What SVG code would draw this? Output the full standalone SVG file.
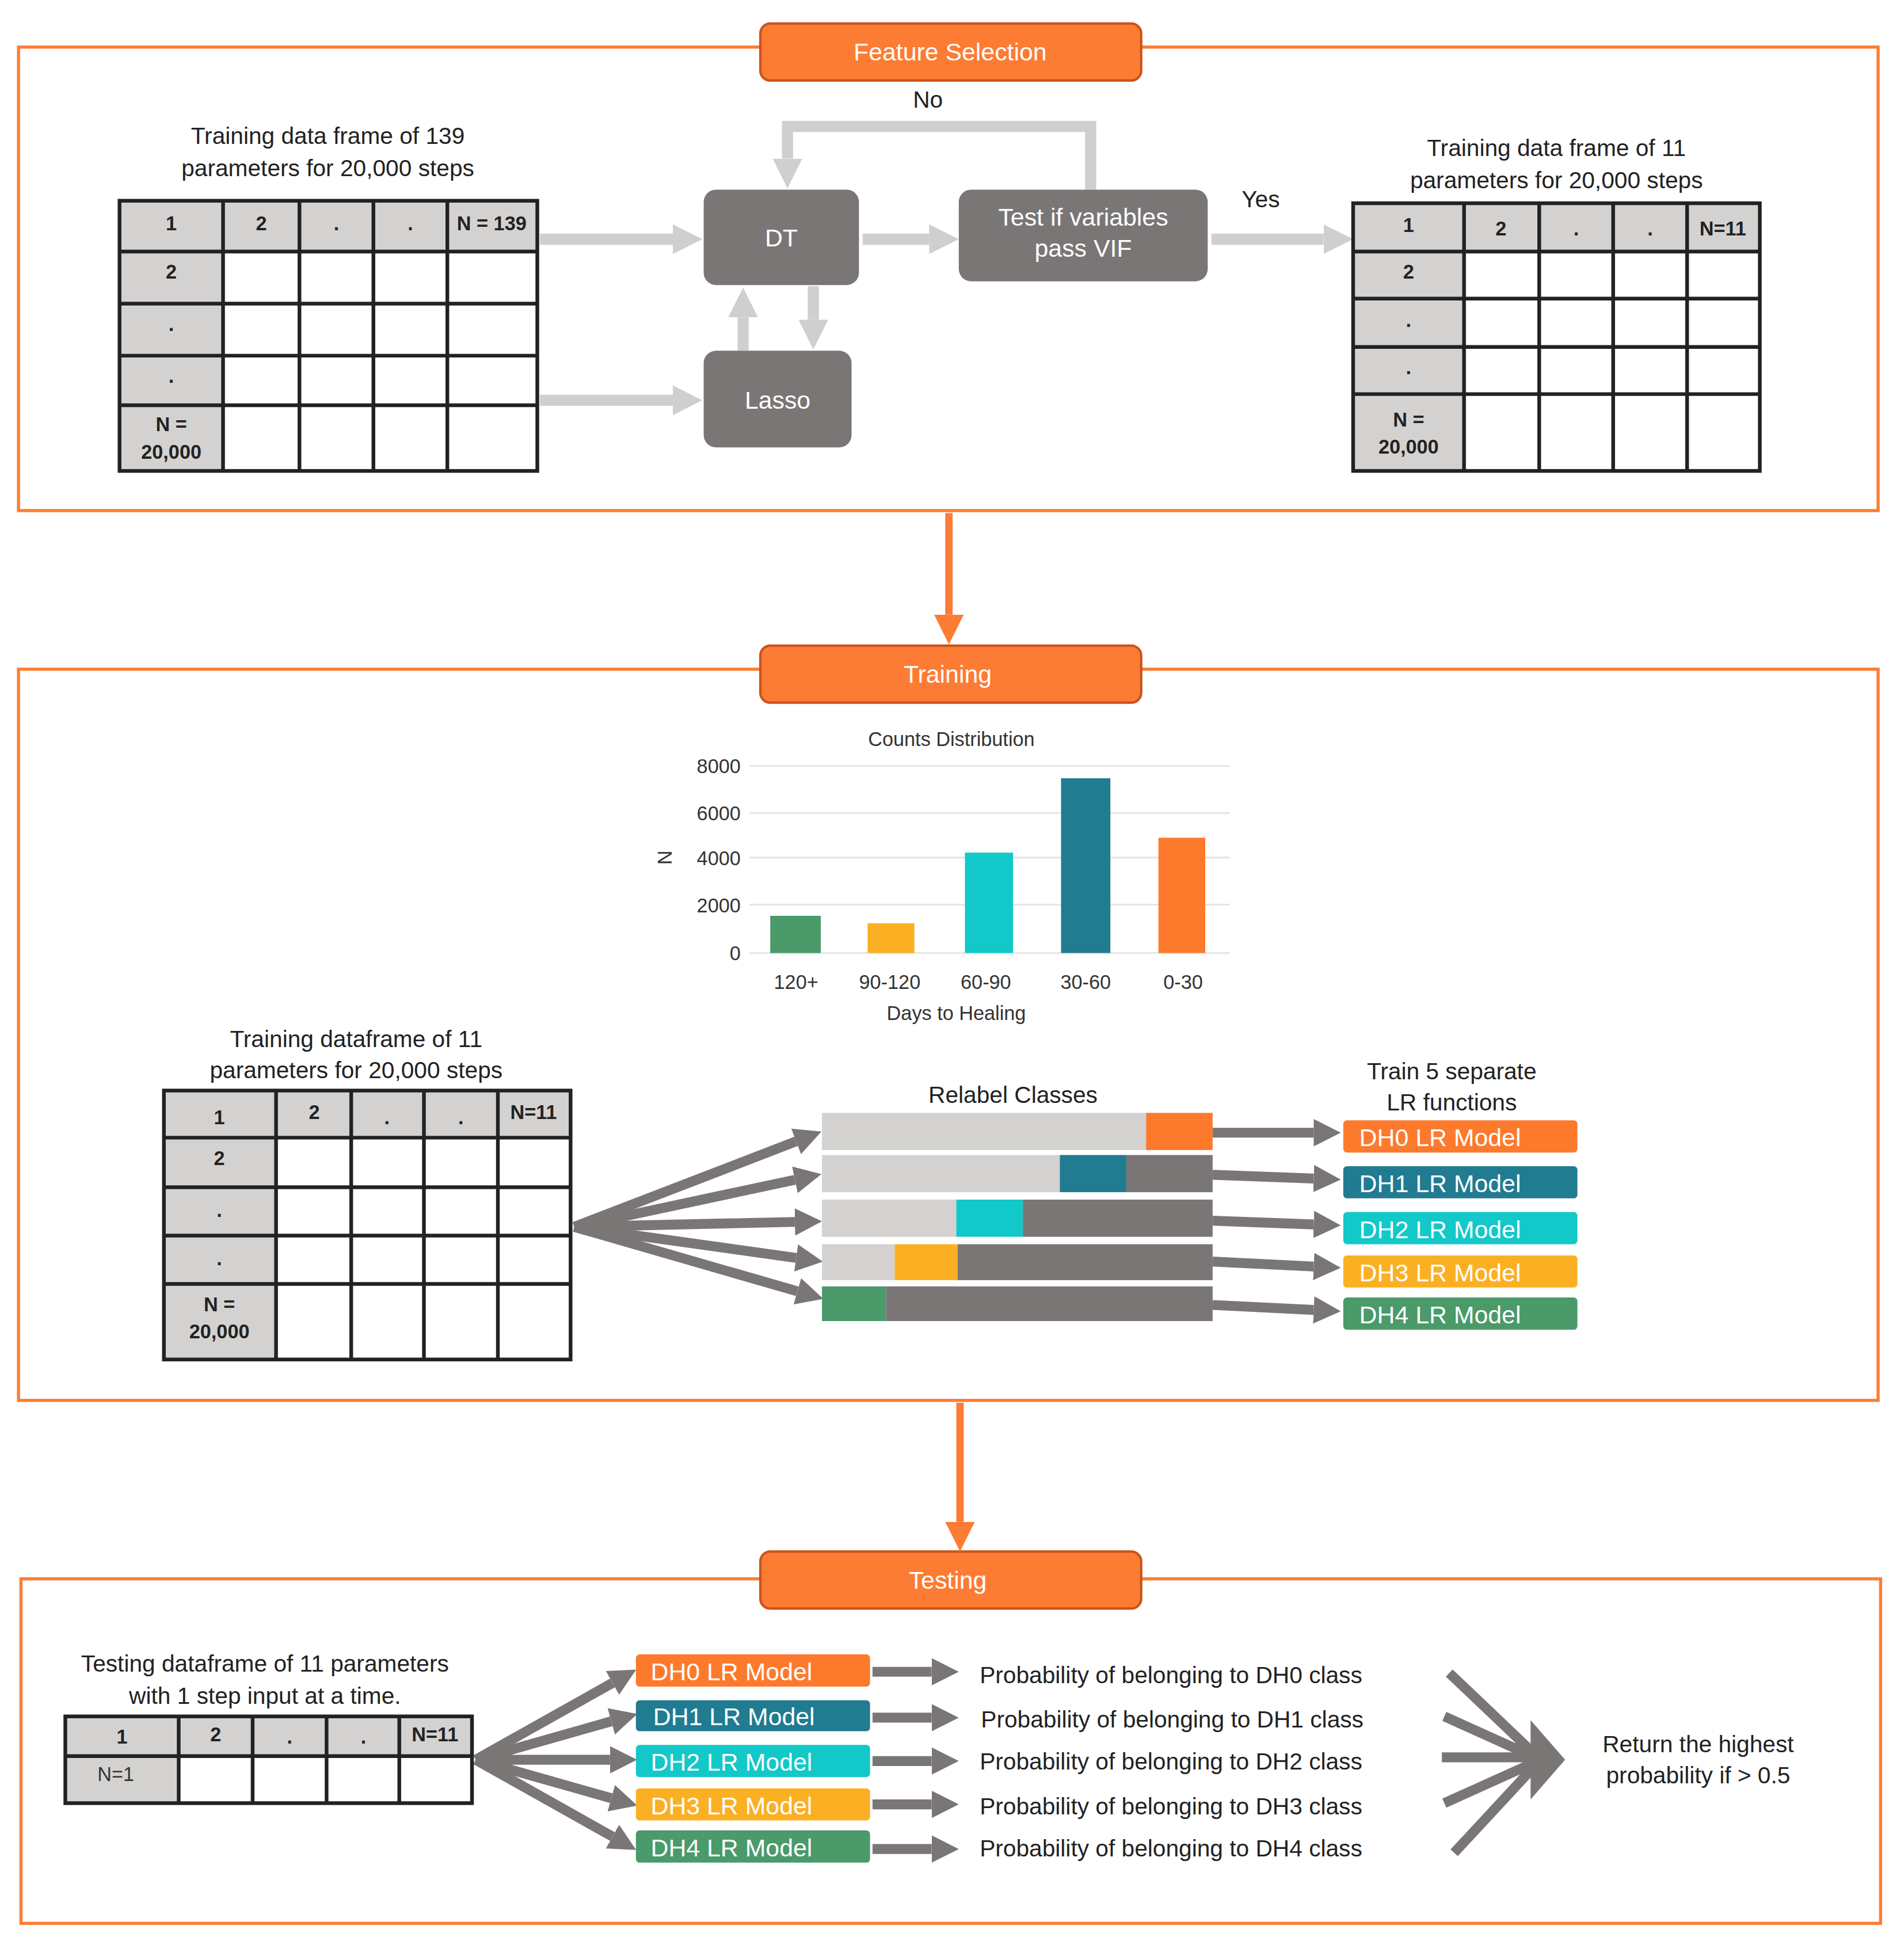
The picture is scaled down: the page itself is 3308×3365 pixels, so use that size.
<svg xmlns="http://www.w3.org/2000/svg" width="3308" height="3365" viewBox="0 0 3308 3365">
<style>
.sec{fill:none;stroke:#fd7c33;stroke-width:2.5}
.pill{fill:#fd7c33;stroke:#c9541c;stroke-width:2}
.pt{font-family:"Liberation Sans",Arial,sans-serif;font-size:20px;fill:#fff;text-anchor:middle}
.t{font-family:"Liberation Sans",Arial,sans-serif;font-size:19px;fill:#222;text-anchor:middle}
.tl{font-family:"Liberation Sans",Arial,sans-serif;font-size:19px;fill:#222}
.s{font-family:"Liberation Sans",Arial,sans-serif;font-size:16px;fill:#333;text-anchor:middle}
.tb{font-family:"Liberation Sans",Arial,sans-serif;font-size:16px;font-weight:bold;fill:#222;text-anchor:middle}
.hd{fill:#d4d2d1}
.grid{fill:none;stroke:#222;stroke-width:3}
.box{fill:#7a7676}
.bt{font-family:"Liberation Sans",Arial,sans-serif;font-size:20px;fill:#fff;text-anchor:middle}
.mt{font-family:"Liberation Sans",Arial,sans-serif;font-size:20px;fill:#fff}
.la{stroke:#d0cece;stroke-width:9;fill:none}
.da{stroke:#7a7676;stroke-width:8;fill:none}
.oa{stroke:#fd7c33;stroke-width:6;fill:none}
.gl{stroke:#e6e6e6;stroke-width:1.5}
</style>
<defs>
<marker id="ml" viewBox="0 0 10 10" refX="0" refY="5" markerWidth="24" markerHeight="28" markerUnits="userSpaceOnUse" orient="auto"><path d="M0,0L10,5L0,10z" fill="#d0cece"/></marker>
<marker id="md" viewBox="0 0 10 10" refX="0" refY="5" markerWidth="22" markerHeight="26" markerUnits="userSpaceOnUse" orient="auto"><path d="M0,0L10,5L0,10z" fill="#7a7676"/></marker>
<marker id="mo" viewBox="0 0 10 10" refX="0" refY="5" markerWidth="24" markerHeight="26" markerUnits="userSpaceOnUse" orient="auto"><path d="M0,0L10,5L0,10z" fill="#fd7c33"/></marker>
</defs>
<rect width="3308" height="3365" fill="#fff"/>
<g transform="scale(2.1411,2.1529)">
<!-- sections -->
<g id="section-feature">
<rect class="sec" x="15" y="38" width="1509" height="374"/>
<rect class="pill" x="617" y="19" width="309" height="46" rx="8"/>
<text class="pt" x="771" y="49">Feature Selection</text>
</g>
<g id="section-training">
<rect class="sec" x="15" y="540" width="1509" height="590"/>
<rect class="pill" x="617" y="521" width="309" height="46" rx="8"/>
<text class="pt" x="769" y="551">Training</text>
</g>
<g id="section-testing">
<rect class="sec" x="17" y="1274" width="1509" height="278"/>
<rect class="pill" x="617" y="1252" width="309" height="46" rx="8"/>
<text class="pt" x="769" y="1282">Testing</text>
</g>

<g id="connectors">
<path class="oa" d="M770,414V496" marker-end="url(#mo)"/>
<path class="oa" d="M779,1132V1228" marker-end="url(#mo)"/>
<path class="la" d="M438,193H546" marker-end="url(#ml)"/>
<path class="la" d="M438,323H546" marker-end="url(#ml)"/>
<path class="la" d="M700,193H754" marker-end="url(#ml)"/>
<path class="la" d="M983,193H1074" marker-end="url(#ml)"/>
<path class="la" d="M885,153V102H639V128" marker-end="url(#ml)"/>
<path class="la" d="M603,283V256" marker-end="url(#ml)"/>
<path class="la" d="M660,231V258" marker-end="url(#ml)"/>
<!-- training fan -->
<path class="da" d="M466,990L646,921" marker-end="url(#md)"/>
<path class="da" d="M466,990L645,952" marker-end="url(#md)"/>
<path class="da" d="M466,990L645,986" marker-end="url(#md)"/>
<path class="da" d="M466,990L646,1015" marker-end="url(#md)"/>
<path class="da" d="M466,990L647,1042" marker-end="url(#md)"/>
<path class="da" d="M984,914H1066" marker-end="url(#md)"/>
<path class="da" d="M984,948L1066,951" marker-end="url(#md)"/>
<path class="da" d="M984,985L1066,988" marker-end="url(#md)"/>
<path class="da" d="M984,1018L1066,1022" marker-end="url(#md)"/>
<path class="da" d="M984,1053L1066,1057" marker-end="url(#md)"/>
<!-- testing fan -->
<path class="da" d="M386,1420L497,1358" marker-end="url(#md)"/>
<path class="da" d="M386,1420L496,1389" marker-end="url(#md)"/>
<path class="da" d="M386,1420H495" marker-end="url(#md)"/>
<path class="da" d="M386,1420L496,1451" marker-end="url(#md)"/>
<path class="da" d="M386,1420L497,1482" marker-end="url(#md)"/>
<path class="da" d="M708,1349H756" marker-end="url(#md)"/>
<path class="da" d="M708,1386H756" marker-end="url(#md)"/>
<path class="da" d="M708,1421H756" marker-end="url(#md)"/>
<path class="da" d="M708,1456H756" marker-end="url(#md)"/>
<path class="da" d="M708,1492H756" marker-end="url(#md)"/>
<path class="da" d="M1176,1350L1250,1420M1172,1385L1250,1420M1170,1418H1250M1172,1455L1250,1420M1180,1495L1250,1420"/>
<path d="M1242,1388L1270,1420L1242,1452z" fill="#7a7676"/>
</g>

<g id="table-139">
<text class="t" x="266" y="116">Training data frame of 139</text>
<text class="t" x="266" y="142">parameters for 20,000 steps</text>
<rect class="hd" x="97" y="162" width="339" height="41"/>
<rect class="hd" x="97" y="162" width="84" height="218"/>
<rect class="grid" x="97" y="162" width="339" height="218"/>
<path class="grid" d="M181,162V380M243,162V380M303,162V380M363,162V380M97,203H436M97,245H436M97,287H436M97,327H436"/>
<text class="tb" x="139" y="186">1</text><text class="tb" x="212" y="186">2</text><text class="tb" x="273" y="186">.</text><text class="tb" x="333" y="186">.</text><text class="tb" x="399" y="186">N = 139</text>
<text class="tb" x="139" y="225">2</text><text class="tb" x="139" y="267">.</text><text class="tb" x="139" y="309">.</text>
<text class="tb" x="139" y="348">N =</text><text class="tb" x="139" y="370">20,000</text>
</g>

<g id="dt"><rect class="box" x="571" y="153" width="126" height="77" rx="10"/><text class="bt" x="634" y="199">DT</text></g>
<g id="lasso"><rect class="box" x="571" y="283" width="120" height="78" rx="10"/><text class="bt" x="631" y="330">Lasso</text></g>
<g id="vif"><rect class="box" x="778" y="153" width="202" height="74" rx="10"/><text class="bt" x="879" y="182">Test if variables</text><text class="bt" x="879" y="207">pass VIF</text></g>
<text class="t" x="753" y="87">No</text>
<text class="t" x="1023" y="167">Yes</text>

<g id="table-11a">
<text class="t" x="1263" y="126">Training data frame of 11</text>
<text class="t" x="1263" y="152">parameters for 20,000 steps</text>
<rect class="hd" x="1098" y="164" width="330" height="39"/>
<rect class="hd" x="1098" y="164" width="90" height="216"/>
<rect class="grid" x="1098" y="164" width="330" height="216"/>
<path class="grid" d="M1188,164V380M1249,164V380M1309,164V380M1369,164V380M1098,203H1428M1098,241H1428M1098,280H1428M1098,318H1428"/>
<text class="tb" x="1143" y="187">1</text><text class="tb" x="1218" y="190">2</text><text class="tb" x="1279" y="190">.</text><text class="tb" x="1339" y="190">.</text><text class="tb" x="1398" y="190">N=11</text>
<text class="tb" x="1143" y="225">2</text><text class="tb" x="1143" y="264">.</text><text class="tb" x="1143" y="302">.</text>
<text class="tb" x="1143" y="344">N =</text><text class="tb" x="1143" y="366">20,000</text>
</g>

<g id="chart">
<text class="s" x="772" y="602" font-size="17">Counts Distribution</text>
<path class="gl" d="M608,618H998M608,656H998M608,692H998M608,730H998M608,769H998"/>
<g class="s" text-anchor="end">
<text x="601" y="624" text-anchor="end">8000</text><text x="601" y="662" text-anchor="end">6000</text><text x="601" y="698" text-anchor="end">4000</text><text x="601" y="736" text-anchor="end">2000</text><text x="601" y="775" text-anchor="end">0</text>
</g>
<text class="s" x="0" y="0" transform="translate(545,692) rotate(-90)">N</text>
<rect x="625" y="739" width="41" height="30" fill="#4a9a6a"/>
<rect x="704" y="745" width="38" height="24" fill="#fbb024"/>
<rect x="783" y="688" width="39" height="81" fill="#13c8c8"/>
<rect x="861" y="628" width="40" height="141" fill="#217b91"/>
<rect x="940" y="676" width="38" height="93" fill="#fd7a2c"/>
<text class="s" x="646" y="798">120+</text><text class="s" x="722" y="798">90-120</text><text class="s" x="800" y="798">60-90</text><text class="s" x="881" y="798">30-60</text><text class="s" x="960" y="798">0-30</text>
<text class="s" x="776" y="823" font-size="17">Days to Healing</text>
</g>

<g id="table-11b">
<text class="t" x="289" y="845">Training dataframe of 11</text>
<text class="t" x="289" y="870">parameters for 20,000 steps</text>
<rect class="hd" x="133" y="880" width="330" height="38"/>
<rect class="hd" x="133" y="880" width="91" height="217"/>
<rect class="grid" x="133" y="880" width="330" height="217"/>
<path class="grid" d="M224,880V1097M285,880V1097M344,880V1097M404,880V1097M133,918H463M133,958H463M133,997H463M133,1036H463"/>
<text class="tb" x="178" y="907">1</text><text class="tb" x="255" y="903">2</text><text class="tb" x="314" y="907">.</text><text class="tb" x="374" y="907">.</text><text class="tb" x="433" y="903">N=11</text>
<text class="tb" x="178" y="940">2</text><text class="tb" x="178" y="982">.</text><text class="tb" x="178" y="1021">.</text>
<text class="tb" x="178" y="1058">N =</text><text class="tb" x="178" y="1080">20,000</text>
</g>

<g id="relabel">
<text class="t" x="822" y="890">Relabel Classes</text>
<rect x="667" y="898" width="263" height="30" fill="#d4d2d1"/><rect x="930" y="898" width="54" height="30" fill="#fd7a2c"/>
<rect x="667" y="932" width="193" height="30" fill="#d4d2d1"/><rect x="860" y="932" width="54" height="30" fill="#217b91"/><rect x="914" y="932" width="70" height="30" fill="#7a7676"/>
<rect x="667" y="968" width="109" height="30" fill="#d4d2d1"/><rect x="776" y="968" width="54" height="30" fill="#13c8c8"/><rect x="830" y="968" width="154" height="30" fill="#7a7676"/>
<rect x="667" y="1004" width="59" height="29" fill="#d4d2d1"/><rect x="726" y="1004" width="51" height="29" fill="#fbb024"/><rect x="777" y="1004" width="207" height="29" fill="#7a7676"/>
<rect x="667" y="1038" width="52" height="28" fill="#4a9a6a"/><rect x="719" y="1038" width="265" height="28" fill="#7a7676"/>
</g>

<g id="train-models">
<text class="t" x="1178" y="871">Train 5 separate</text>
<text class="t" x="1178" y="896">LR functions</text>
<rect x="1090" y="904" width="190" height="26" rx="3" fill="#fd7a2c"/><text class="mt" x="1103" y="925">DH0 LR Model</text>
<rect x="1090" y="941" width="190" height="26" rx="3" fill="#217b91"/><text class="mt" x="1103" y="962">DH1 LR Model</text>
<rect x="1090" y="978" width="190" height="26" rx="3" fill="#13c8c8"/><text class="mt" x="1103" y="999">DH2 LR Model</text>
<rect x="1090" y="1013" width="190" height="26" rx="3" fill="#fbb024"/><text class="mt" x="1103" y="1034">DH3 LR Model</text>
<rect x="1090" y="1047" width="190" height="26" rx="3" fill="#4a9a6a"/><text class="mt" x="1103" y="1068">DH4 LR Model</text>
</g>

<g id="table-test">
<text class="t" x="215" y="1349">Testing dataframe of 11 parameters</text>
<text class="t" x="215" y="1375">with 1 step input at a time.</text>
<rect class="hd" x="53" y="1385" width="330" height="32"/>
<rect class="hd" x="53" y="1385" width="92" height="70"/>
<rect class="grid" x="53" y="1385" width="330" height="70"/>
<path class="grid" d="M145,1385V1455M205,1385V1455M265,1385V1455M324,1385V1455M53,1417H383"/>
<text class="tb" x="99" y="1407">1</text><text class="tb" x="175" y="1405">2</text><text class="tb" x="235" y="1407">.</text><text class="tb" x="295" y="1407">.</text><text class="tb" x="353" y="1405">N=11</text>
<text class="s" x="94" y="1437">N=1</text>
</g>

<g id="test-models">
<rect x="516" y="1335" width="190" height="26" rx="3" fill="#fd7a2c"/><text class="mt" x="528" y="1356">DH0 LR Model</text>
<rect x="516" y="1372" width="190" height="25" rx="3" fill="#217b91"/><text class="mt" x="530" y="1392">DH1 LR Model</text>
<rect x="516" y="1408" width="190" height="26" rx="3" fill="#13c8c8"/><text class="mt" x="528" y="1429">DH2 LR Model</text>
<rect x="516" y="1443" width="190" height="26" rx="3" fill="#fbb024"/><text class="mt" x="528" y="1464">DH3 LR Model</text>
<rect x="516" y="1477" width="190" height="26" rx="3" fill="#4a9a6a"/><text class="mt" x="528" y="1498">DH4 LR Model</text>
</g>

<g id="probabilities">
<text class="tl" x="795" y="1358">Probability of belonging to DH0 class</text>
<text class="tl" x="796" y="1394">Probability of belonging to DH1 class</text>
<text class="tl" x="795" y="1428">Probability of belonging to DH2 class</text>
<text class="tl" x="795" y="1464">Probability of belonging to DH3 class</text>
<text class="tl" x="795" y="1498">Probability of belonging to DH4 class</text>
</g>
<g id="result">
<text class="t" x="1378" y="1414">Return the highest</text>
<text class="t" x="1378" y="1439">probability if &gt; 0.5</text>
</g>
</g>
</svg>
